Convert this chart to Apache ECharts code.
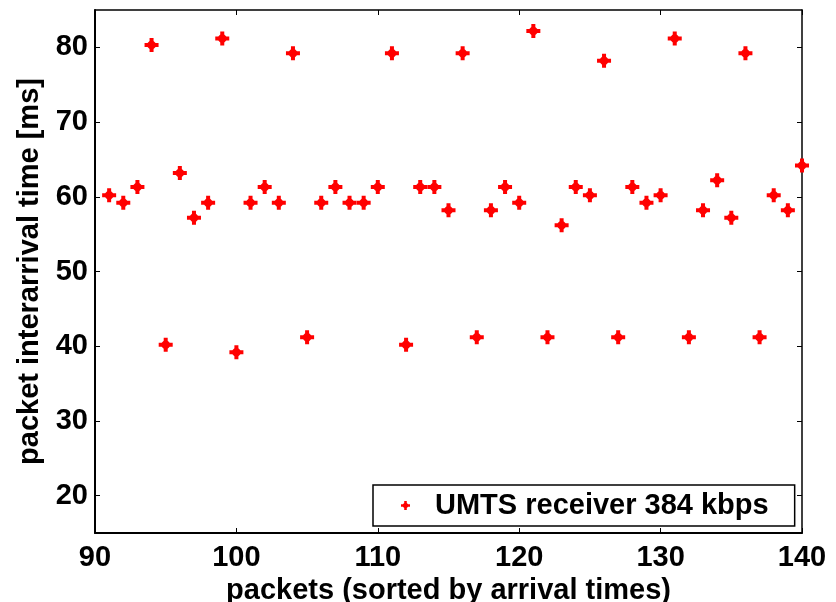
<!DOCTYPE html>
<html>
<head>
<meta charset="utf-8">
<script src="https://cdn.jsdelivr.net/npm/echarts@6/dist/echarts.min.js"></script>
<style>
  html, body { margin: 0; padding: 0; background: #fff; }
  #chart { width: 836px; height: 602px; }
</style>
</head>
<body>
<div id="chart"></div>
<script>
// Packet indices (sorted by arrival time)
const packets = [91, 92, 93, 94, 95, 96, 97, 98, 99, 100,
                 101, 102, 103, 104, 105, 106, 107, 108, 109, 110,
                 111, 112, 113, 114, 115, 116, 117, 118, 119, 120,
                 121, 122, 123, 124, 125, 126, 127, 128, 129, 130,
                 131, 132, 133, 134, 135, 136, 137, 138, 139, 140];
// Interarrival time per packet [ms]
const interarrival = [60.2, 59.2, 61.3, 80.3, 40.2, 63.2, 57.2, 59.2, 81.2, 39.2,
                      59.2, 61.3, 59.2, 79.2, 41.2, 59.2, 61.3, 59.2, 59.2, 61.3,
                      79.2, 40.2, 61.3, 61.3, 58.2, 79.2, 41.2, 58.2, 61.3, 59.2,
                      82.2, 41.2, 56.2, 61.3, 60.2, 78.2, 41.2, 61.3, 59.2, 60.2,
                      81.2, 41.2, 58.2, 62.2, 57.2, 79.2, 41.2, 60.2, 58.2, 64.2];
const seriesName = 'UMTS receiver 384 kbps';
const xTicks = [90, 100, 110, 120, 130, 140];
const yTicks = [20, 30, 40, 50, 60, 70, 80];

const points = packets.map((p, i) => [p, interarrival[i]]);

// Thick plus-shaped marker
const plusMark = 'path://M5,0 L9,0 L9,3 L11,5 L14,5 L14,9 L11,9 L9,11 L9,14 L5,14 L5,11 L3,9 L0,9 L0,5 L3,5 L5,3 Z';

const FONT = '"Liberation Sans", Arial, Helvetica, sans-serif';
const FS = 29;

const chart = echarts.init(document.getElementById('chart'), null, { renderer: 'canvas' });

const baseX = {
  type: 'value', min: 90, max: 140, interval: 10,
  splitLine: { show: false }
};
const baseY = {
  type: 'value', min: 15, max: 85, interval: 5,
  splitLine: { show: false }
};

chart.setOption({
  backgroundColor: '#ffffff',
  animation: false,
  grid: { left: 95, right: 34, top: 10, bottom: 69, containLabel: false, outerBoundsMode: 'none' },
  legend: {
    data: [{ name: seriesName, icon: plusMark }],
    left: 373, top: 485,
    itemWidth: 9, itemHeight: 9, itemGap: 0,
    padding: [6, 26, 6, 28],
    borderColor: '#000', borderWidth: 1.5,
    backgroundColor: '#fff',
    textStyle: { fontFamily: FONT, fontWeight: 'bold', fontSize: FS, color: '#000', padding: [0, 0, 0, 20] }
  },
  xAxis: [
    Object.assign({}, baseX, {
      position: 'bottom',
      name: 'packets (sorted by arrival times)',
      nameLocation: 'middle', nameGap: 42,
      nameTextStyle: { fontFamily: FONT, fontWeight: 'bold', fontSize: FS, color: '#000' },
      axisLine: { show: true, onZero: false, lineStyle: { color: '#000', width: 2 } },
      axisTick: { show: true, inside: true, length: 5, lineStyle: { color: '#000', width: 1 } },
      axisLabel: { show: true, margin: 10, fontFamily: FONT, fontWeight: 'bold', fontSize: FS, color: '#000',
        formatter: v => (xTicks.indexOf(v) >= 0 ? String(v) : '') }
    }),
    Object.assign({}, baseX, {
      position: 'top',
      axisLine: { show: true, onZero: false, lineStyle: { color: '#000', width: 1.5 } },
      axisTick: { show: true, inside: true, length: 5, lineStyle: { color: '#000', width: 1 } },
      axisLabel: { show: false }
    })
  ],
  yAxis: [
    Object.assign({}, baseY, {
      position: 'left',
      name: 'packet interarrival time [ms]',
      nameLocation: 'middle', nameGap: 48,
      nameTextStyle: { fontFamily: FONT, fontWeight: 'bold', fontSize: FS, color: '#000' },
      axisLine: { show: true, onZero: false, lineStyle: { color: '#000', width: 2 } },
      axisTick: { show: true, inside: true, length: 5, lineStyle: { color: '#000', width: 1 },
        customValues: yTicks },
      axisLabel: { show: true, margin: 7, fontFamily: FONT, fontWeight: 'bold', fontSize: FS, color: '#000',
        customValues: yTicks, formatter: v => String(v) }
    }),
    Object.assign({}, baseY, {
      position: 'right',
      axisLine: { show: true, onZero: false, lineStyle: { color: '#000', width: 1.5 } },
      axisTick: { show: true, inside: true, length: 5, lineStyle: { color: '#000', width: 1 },
        customValues: yTicks },
      axisLabel: { show: false }
    })
  ],
  series: [{
    name: seriesName,
    type: 'scatter',
    xAxisIndex: 0, yAxisIndex: 0,
    data: points,
    symbol: plusMark,
    symbolSize: 14,
    itemStyle: { color: '#ff0000', opacity: 1 },
    clip: false
  }]
});
</script>
</body>
</html>
